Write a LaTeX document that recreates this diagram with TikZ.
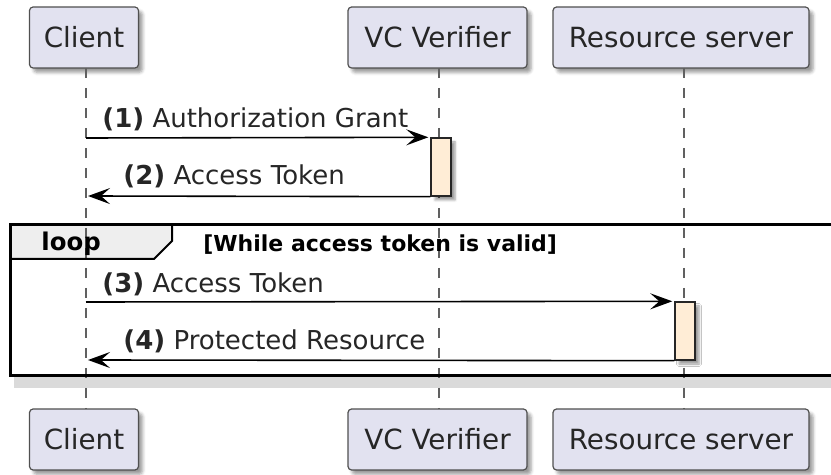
\documentclass[tikz,border=0pt]{standalone}
\usepackage{fontspec}
\setmainfont{DejaVu Sans}
\usetikzlibrary{arrows.meta,shadows,shadows.blur}
\definecolor{partfill}{HTML}{E2E2F0}
\definecolor{partline}{HTML}{505050}
\definecolor{actfill}{HTML}{FFEDD6}
\definecolor{tabfill}{HTML}{EEEEEE}
\definecolor{shadowgray}{HTML}{DADADA}
\definecolor{lifegray}{HTML}{606060}
\tikzset{
  part/.style={draw=partline, line width=0.6pt, fill=partfill, rounded corners=1.8pt,
    minimum height=30.5pt, inner sep=0pt, font=\fontsize{13.9}{16}\selectfont, text=black!85,
    blur shadow={shadow xshift=2pt, shadow yshift=-2.2pt, shadow blur radius=1.6pt, shadow opacity=40}},
  actbar/.style={draw=black!85, line width=0.7pt, fill=actfill, minimum width=10pt,
    minimum height=29pt, inner sep=0pt,
    blur shadow={shadow xshift=2pt, shadow yshift=-2pt, shadow blur radius=1.2pt, shadow opacity=40}},
  lifeline/.style={draw=lifegray, line width=0.55pt, dash pattern=on 5pt off 5pt},
  msg/.style={draw=black, line width=0.8pt, shorten >=1pt, -{Stealth[length=11pt,width=8pt,inset=4.5pt]}},
  msglabel/.style={anchor=base west, inner sep=0pt, font=\fontsize{13}{15}\selectfont, text=black!85},
  frame/.style={draw=black, line width=1.5pt},
  tabline/.style={draw=black, line width=1pt},
  looplabel/.style={anchor=base west, inner sep=0pt, font=\fontsize{12.2}{14}\selectfont\bfseries},
  guardlabel/.style={anchor=base west, inner sep=0pt, font=\fontsize{11}{13}\selectfont\bfseries},
}
\begin{document}
\begin{tikzpicture}[x=0.5pt,y=-0.5pt]
\path[use as bounding box] (0,0) rectangle (831,475);
\begin{scope}
\clip (0,0) rectangle (831,475);
% loop shadow, body and tab fill
\fill[shadowgray] (14,236) rectangle (850,388);
\fill[white] (10,225) rectangle (845,376);
\fill[tabfill] (10,225) -- (172,225) -- (172,241) -- (154,259) -- (10,259) -- cycle;
% participants (top)
\node[part, minimum width=54.5pt] (clT) at (84,37.5) {Client};
\node[part, minimum width=89.5pt] (vcT) at (437.5,37.5) {VC Verifier};
\node[part, minimum width=128pt] (rsT) at (681,37.5) {Resource server};
% lifeline ends
\coordinate (clA) at (86,68);  \coordinate (clZ) at (86,409);
\coordinate (vcA) at (439,68); \coordinate (vcZ) at (439,409);
\coordinate (rsA) at (684,68); \coordinate (rsZ) at (684,409);
\draw[lifeline] (clA) -- (clZ);
\draw[lifeline] (vcA) -- (vcZ);
\draw[lifeline] (rsA) -- (rsZ);
% loop frame
\draw[frame] (10,225) rectangle (845,376);
\draw[tabline] (172,225) -- (172,241) -- (154,259) -- (10,259);
\node[looplabel] (lp) at (41,251) {loop};
\node[guardlabel] (gd) at (203,252) {[While access token is valid]};
% activation bars
\node[actbar] (a1) at (441,167) {};
\node[actbar] (a2) at (685,331) {};
% message ends on the client lifeline
\coordinate (m1) at (86,138);
\coordinate (m2) at (86,196);
\coordinate (m3) at (86,302);
\coordinate (m4) at (86,360);
\draw[msg] (m1) -- (a1.north west);
\draw[msg] (a1.south west) -- (m2);
\draw[msg] (m3) -- (a2.north west);
\draw[msg] (a2.south west) -- (m4);
\node[msglabel] (l1) at (102,128) {\textbf{(1)} Authorization Grant};
\node[msglabel] (l2) at (123,185) {\textbf{(2)} Access Token};
\node[msglabel] (l3) at (102,293) {\textbf{(3)} Access Token};
\node[msglabel] (l4) at (123,350) {\textbf{(4)} Protected Resource};
% participants (bottom)
\node[part, minimum width=54.5pt] (clB) at (84,439.5) {Client};
\node[part, minimum width=89.5pt] (vcB) at (437.5,439.5) {VC Verifier};
\node[part, minimum width=128pt] (rsB) at (681,439.5) {Resource server};
\end{scope}
\end{tikzpicture}
\end{document}
